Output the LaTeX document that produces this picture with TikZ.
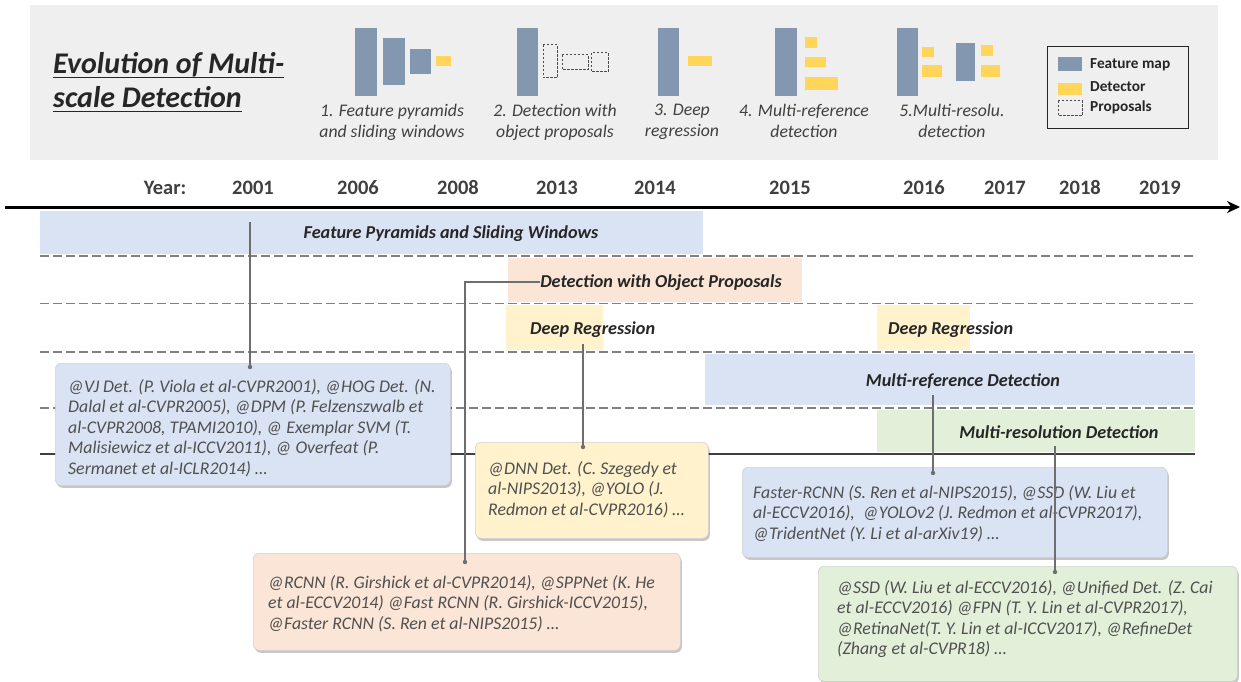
\documentclass[tikz,border=0pt]{standalone}
\usepackage{fontspec}
\setmainfont{Carlito}
\usetikzlibrary{arrows.meta,shadows,calc}

% palette
\definecolor{headgray}{RGB}{239,239,239}
\definecolor{mapblue}{RGB}{132,151,176}
\definecolor{detyellow}{RGB}{255,214,90}
\definecolor{laneblue}{RGB}{218,227,243}
\definecolor{laneorange}{RGB}{251,229,214}
\definecolor{laneyellow}{RGB}{255,242,204}
\definecolor{lanegreen}{RGB}{226,240,217}
\definecolor{titleink}{RGB}{38,38,38}
\definecolor{headink}{RGB}{64,64,64}
\definecolor{refink}{RGB}{80,80,80}
\definecolor{lanegray}{RGB}{128,128,128}
\definecolor{linkgray}{RGB}{110,110,110}

\newcommand\setfs[2]{\fontsize{#1}{#2}\selectfont}

\tikzset{
  bandrect/.style={anchor=north west, inner sep=0, outer sep=0, draw=none},
  bandlabel/.style={anchor=base, inner sep=0, font=\setfs{18.2}{21}\bfseries\itshape, text=titleink},
  yearlabel/.style={anchor=base, inner sep=0, font=\setfs{20.5}{24}\bfseries, text=headink},
  refbox/.style={anchor=north west, rounded corners=6pt, draw=black!18, line width=0.6pt,
    drop shadow={shadow xshift=1.5pt, shadow yshift=-2.5pt, fill=black, opacity=0.22}, inner sep=0},
  reftext/.style={anchor=north west, align=left, inner sep=0, font=\setfs{17.8}{20.5}\itshape, text=refink},
  headlabel/.style={anchor=north, align=center, inner sep=0, font=\setfs{17.7}{21}\itshape, text=headink},
  laneline/.style={draw=lanegray, line width=1.8pt, dash pattern=on 9pt off 4pt},
  link/.style={draw=linkgray, line width=1.1pt},
  linkdot/.style={fill=linkgray},
  featbar/.style={fill=mapblue},
  detbar/.style={fill=detyellow},
  propbox/.style={draw=black!70, line width=1pt, dash pattern=on 2.5pt off 1.5pt},
  legendtext/.style={anchor=base west, inner sep=0, font=\setfs{15.3}{17}\bfseries, text=titleink},
}

\begin{document}
\begin{tikzpicture}[x=1pt,y=-1pt]
\useasboundingbox (0,0) rectangle (1241,682);
\fill[white] (0,0) rectangle (1241,682);

% ---------------- header panel ----------------
\node[anchor=north west, fill=headgray, minimum width=1188, minimum height=155, inner sep=0] (header) at (30,5) {};

\node[anchor=base west, inner sep=0, font=\setfs{30}{34}\bfseries\itshape, text=titleink] (t1) at (53,74) {Evolution of Multi-};
\node[anchor=base west, inner sep=0, font=\setfs{30}{34}\bfseries\itshape, text=titleink] (t2) at (53,108) {scale Detection};
\draw[titleink, line width=1.8pt] ([yshift=-3.5pt]t1.base west) -- ([yshift=-3.5pt]t1.base east);
\draw[titleink, line width=1.8pt] ([yshift=-3.5pt]t2.base west) -- ([yshift=-3.5pt]t2.base east);

% icon 1: feature pyramid with sliding window
\fill[featbar] (355,28) rectangle (377,96);
\fill[featbar] (383,38) rectangle (405,85);
\fill[featbar] (410,49) rectangle (431,74);
\fill[detbar] (436,56) rectangle (451,66);
% icon 2: proposals
\fill[featbar] (517,28) rectangle (538,96);
\draw[propbox] (543,45) rectangle (557,78);
\draw[propbox] (562,55) rectangle (588,70);
\draw[propbox] (591,53) rectangle (608,72);
% icon 3: deep regression
\fill[featbar] (658,28) rectangle (679,96);
\fill[detbar] (688,56) rectangle (712,66);
% icon 4: multi-reference
\fill[featbar] (775,28) rectangle (797,96);
\fill[detbar] (805,37) rectangle (817,48);
\fill[detbar] (805,57) rectangle (826,67);
\fill[detbar] (805,77) rectangle (838,90);
% icon 5: multi-resolution
\fill[featbar] (897,28) rectangle (918,96);
\fill[detbar] (922,47) rectangle (934,57);
\fill[detbar] (922,65) rectangle (942,77);
\fill[featbar] (956,43) rectangle (975,81);
\fill[detbar] (981,45) rectangle (993,56);
\fill[detbar] (981,65) rectangle (1000,77);

\node[headlabel] (lab1) at (392,104) {1. Feature pyramids\\and sliding windows};
\node[headlabel] (lab2) at (555,104) {2. Detection with\\object proposals};
\node[headlabel] (lab3) at (682,104) {3. Deep\\regression};
\node[headlabel] (lab4) at (804,104) {4. Multi-reference\\detection};
\node[headlabel] (lab5) at (952,104) {5.Multi-resolu.\\detection};

% legend
\node[anchor=north west, draw=black!85, line width=1.4pt, fill=headgray, minimum width=141, minimum height=82, inner sep=0] (legend) at (1047,46) {};
\fill[featbar] (1058,57) rectangle (1082,71);
\fill[detbar] (1058,83) rectangle (1082,95);
\draw[propbox] (1058,101) rectangle (1082,116);
\node[legendtext] (lg1) at (1090,69) {Feature map};
\node[legendtext] (lg2) at (1090,92) {Detector};
\node[legendtext] (lg3) at (1090,112) {Proposals};

% ---------------- time axis ----------------
\foreach \yr/\xx [count=\i] in {Year:/165, 2001/253, 2006/358, 2008/458, 2013/557, 2014/655, 2015/790, 2016/924, 2017/1005, 2018/1080, 2019/1160}
  \node[yearlabel] (yr\i) at (\xx,194) {\yr};
\coordinate (axisstart) at (5,207);
\coordinate (axisend) at (1240,207);
\draw[black, line width=3pt, -{Stealth[length=13pt,width=12pt]}] (axisstart) -- (axisend);

% ---------------- lanes ----------------
\node[bandrect, fill=laneblue,   minimum width=663, minimum height=43] (fpband) at (40,211) {};
\node[bandrect, fill=laneorange, minimum width=294, minimum height=44] (opband) at (508,258) {};
\node[bandrect, fill=laneyellow, minimum width=97,  minimum height=45] (drband1) at (506,305) {};
\node[bandrect, fill=laneyellow, minimum width=93,  minimum height=45] (drband2) at (877,305) {};
\node[bandrect, fill=laneblue,   minimum width=490, minimum height=51] (mrband) at (705,354) {};
\node[bandrect, fill=lanegreen,  minimum width=318, minimum height=42] (msband) at (877,410) {};

\foreach \yy in {256,303.5,352,408}
  \draw[laneline] (40,\yy) -- (1195,\yy);
\draw[black!75, line width=1.5pt] (40,454) -- (1195,454);

\node[bandlabel] (fplab) at (451,238) {Feature Pyramids and Sliding Windows};
\node[bandlabel] (oplab) at (661,287) {Detection with Object Proposals};
\node[bandlabel, anchor=base west] (drlab1) at (530,334) {Deep Regression};
\node[bandlabel, anchor=base west] (drlab2) at (888,334) {Deep Regression};
\node[bandlabel] (mrlab) at (963,386) {Multi-reference Detection};
\node[bandlabel] (mslab) at (1059,438) {Multi-resolution Detection};

% ---------------- reference boxes ----------------
\node[refbox, fill=laneblue, minimum width=395, minimum height=122] (vj) at (55,363) {};
\node[reftext] (vjtext) at (68,379) {@VJ Det. (P. Viola et al-CVPR2001), @HOG Det. (N.\\Dalal et al-CVPR2005), @DPM (P. Felzenszwalb et\\al-CVPR2008, TPAMI2010), @ Exemplar SVM (T.\\Malisiewicz et al-ICCV2011), @ Overfeat (P.\\Sermanet et al-ICLR2014) …};

\node[refbox, fill=laneyellow, minimum width=233, minimum height=96] (dnn) at (475,442) {};
\node[reftext] (dnntext) at (488,461) {@DNN Det. (C. Szegedy et\\al-NIPS2013), @YOLO (J.\\Redmon et al-CVPR2016) …};

\node[refbox, fill=laneorange, minimum width=427, minimum height=97] (rcnn) at (253,553) {};
\node[reftext] (rcnntext) at (268,575) {@RCNN (R. Girshick et al-CVPR2014), @SPPNet (K. He\\et al-ECCV2014) @Fast RCNN (R. Girshick-ICCV2015),\\@Faster RCNN (S. Ren et al-NIPS2015) …};

\node[refbox, fill=laneblue, minimum width=425, minimum height=90] (frcnn) at (742,467) {};
\node[reftext] (frcnntext) at (753,485) {Faster-RCNN (S. Ren et al-NIPS2015), @SSD (W. Liu et\\al-ECCV2016),~ @YOLOv2 (J. Redmon et al-CVPR2017),\\@TridentNet (Y. Li et al-arXiv19) …};

\node[refbox, fill=lanegreen, minimum width=419, minimum height=115] (ssd) at (818,566) {};
\node[reftext] (ssdtext) at (837,580) {@SSD (W. Liu et al-ECCV2016), @Unified Det. (Z. Cai\\et al-ECCV2016) @FPN (T. Y. Lin et al-CVPR2017),\\@RetinaNet(T. Y. Lin et al-ICCV2017), @RefineDet\\(Zhang et al-CVPR18) …};

% ---------------- connectors ----------------
\coordinate (c1) at (250,222);
\coordinate (c2) at (465,282);
\coordinate (c3) at (583,344);
\coordinate (c4) at (933,395);
\coordinate (c5) at (1055,446);

\draw[link] (c1) -- ([yshift=-4pt]c1 |- vj.north);
\draw[link] (oplab.west |- c2) -- (c2) -- ([yshift=-9pt]c2 |- rcnn.north);
\draw[link] (c3) -- ([yshift=-5pt]c3 |- dnn.north);
\draw[link] (c4) -- ([yshift=-6pt]c4 |- frcnn.north);
\draw[link] (c5) -- ([yshift=-6pt]c5 |- ssd.north);

\fill[linkdot] ([yshift=-4pt]c1 |- vj.north) circle[radius=2.2pt];
\fill[linkdot] ([yshift=-9pt]c2 |- rcnn.north) circle[radius=2.2pt];
\fill[linkdot] ([yshift=-5pt]c3 |- dnn.north) circle[radius=2.2pt];
\fill[linkdot] ([yshift=-6pt]c4 |- frcnn.north) circle[radius=2.2pt];
\fill[linkdot] ([yshift=-6pt]c5 |- ssd.north) circle[radius=2.2pt];
\end{tikzpicture}
\end{document}
